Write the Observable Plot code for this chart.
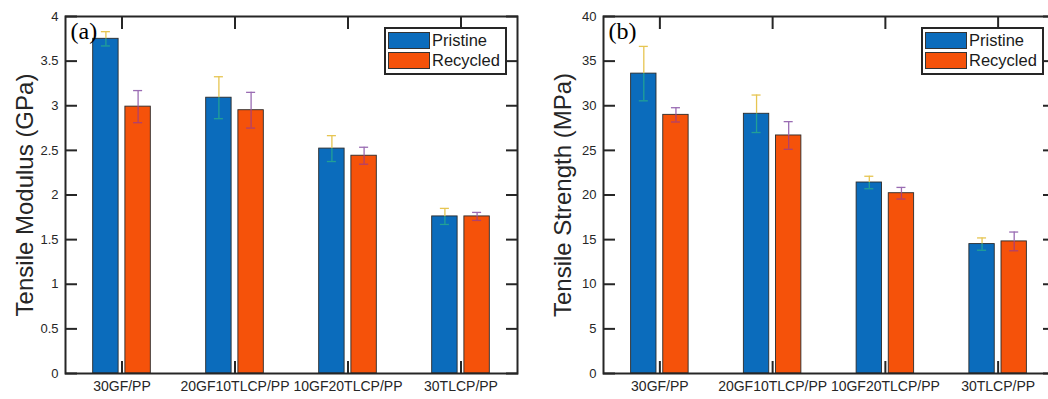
<!DOCTYPE html>
<html>
<head>
<meta charset="utf-8">
<script src="https://cdn.jsdelivr.net/npm/d3@7"></script>
<script src="https://cdn.jsdelivr.net/npm/@observablehq/plot@0.6"></script>
<style>
  html, body { margin: 0; padding: 0; background: #fff; overflow: hidden; width: 1048px; height: 399px; }
  #wrap { position: relative; width: 1048px; height: 399px; overflow: hidden; font-family: Arial, "Liberation Sans", sans-serif; }
  .panel { position: absolute; top: 0; }
  .legend { position: absolute; box-sizing: border-box; border: 2px solid #262626; background: #fff; }
  .legend .sw { position: absolute; left: 2px; width: 42px; height: 17px; box-sizing: border-box; border: 1px solid #333; }
  .legend .lb { position: absolute; left: 46px; font-size: 16.5px; line-height: 17px; color: #1a1a1a; white-space: nowrap; }
</style>
</head>
<body>
<div id="wrap"></div>
<script>
// Sample groups and series
const categories = ["30GF/PP", "20GF10TLCP/PP", "10GF20TLCP/PP", "30TLCP/PP"];
const seriesNames = ["Pristine", "Recycled"];
const seriesColors = ["#0b6cbc", "#f5520a"];

// (a) tensile modulus, GPa (mean and error)
const modulusPristine = [3.75, 3.09, 2.52, 1.76];
const modulusPristineErr = [0.08, 0.235, 0.145, 0.09];
const modulusRecycled = [2.99, 2.95, 2.44, 1.76];
const modulusRecycledErr = [0.18, 0.2, 0.095, 0.045];
const modulusTicks = [0, 0.5, 1, 1.5, 2, 2.5, 3, 3.5, 4];

// (b) tensile strength, MPa (mean and error)
const strengthPristine = [33.6, 29.1, 21.4, 14.5];
const strengthPristineErr = [3.05, 2.1, 0.7, 0.69];
const strengthRecycled = [28.98, 26.67, 20.2, 14.8];
const strengthRecycledErr = [0.8, 1.55, 0.65, 1.05];
const strengthTicks = [0, 5, 10, 15, 20, 25, 30, 35, 40];

// Bar span within each group (in category units) and error bar colours
const barSpan = {Pristine: [-0.255, -0.03], Recycled: [0.03, 0.255]};
const errColors = {
  Pristine: {upper: "#e6c552", lower: "#22a096"},
  Recycled: {upper: "#9a6cb3", lower: "#b0406e"}
};
const capHalf = 0.04;

function rowsFor(pVals, pErr, rVals, rErr) {
  const rows = [];
  categories.forEach((c, i) => {
    rows.push({i, category: c, series: "Pristine", value: pVals[i], err: pErr[i]});
    rows.push({i, category: c, series: "Recycled", value: rVals[i], err: rErr[i]});
  });
  return rows;
}

function errorMarks(rows) {
  const marks = [];
  for (const s of seriesNames) {
    const data = rows.filter(d => d.series === s);
    const cx = d => d.i + (barSpan[s][0] + barSpan[s][1]) / 2;
    const col = errColors[s];
    marks.push(
      Plot.ruleX(data, {x: cx, y1: "value", y2: d => d.value + d.err, stroke: col.upper, strokeWidth: 1.3}),
      Plot.ruleX(data, {x: cx, y1: d => d.value - d.err, y2: "value", stroke: col.lower, strokeWidth: 1.3}),
      Plot.ruleY(data, {y: d => d.value + d.err, x1: d => cx(d) - capHalf, x2: d => cx(d) + capHalf, stroke: col.upper, strokeWidth: 1.3}),
      Plot.ruleY(data, {y: d => d.value - d.err, x1: d => cx(d) - capHalf, x2: d => cx(d) + capHalf, stroke: col.lower, strokeWidth: 1.3})
    );
  }
  return marks;
}

function panel({rows, yDomain, yTicks, yLabel, tag, width, marginLeft, marginRight}) {
  return Plot.plot({
    width,
    height: 399,
    marginTop: 16,
    marginBottom: 26,
    marginLeft,
    marginRight,
    style: {fontFamily: "Arial, 'Liberation Sans', sans-serif", background: "transparent", overflow: "visible"},
    x: {domain: [-0.5, 3.5]},
    y: {domain: yDomain},
    color: {domain: seriesNames, range: seriesColors},
    marks: [
      Plot.rectY(rows, {
        x1: d => d.i + barSpan[d.series][0],
        x2: d => d.i + barSpan[d.series][1],
        y: "value",
        fill: "series",
        stroke: "#2b2b2b",
        strokeWidth: 0.9
      }),
      ...errorMarks(rows),
      Plot.axisY({anchor: "left", ticks: yTicks, tickSize: -12, tickPadding: 19, tickFormat: d => String(d),
        fontSize: 13, color: "#262626", strokeWidth: 2, label: null}),
      Plot.axisY({anchor: "right", ticks: yTicks, tickSize: -12, tickFormat: () => "", color: "#262626", strokeWidth: 2, label: null}),
      Plot.axisX({anchor: "bottom", ticks: [0, 1, 2, 3], tickSize: -12, tickPadding: 20, tickFormat: i => categories[i],
        fontSize: 14, color: "#262626", strokeWidth: 2, label: null}),
      Plot.axisX({anchor: "top", ticks: [0, 1, 2, 3], tickSize: -12, tickFormat: () => "", color: "#262626", strokeWidth: 2, label: null}),
      Plot.frame({stroke: "#262626", strokeWidth: 2}),
      Plot.text([yLabel], {text: d => d, frameAnchor: "left", textAnchor: "middle", lineAnchor: "middle",
        rotate: -90, dx: -40, fontSize: 24, fill: "#262626"}),
      Plot.text([tag], {text: d => d, frameAnchor: "top-left", dx: 5, dy: 5, textAnchor: "start", lineAnchor: "top",
        fontFamily: "'Liberation Serif', 'Times New Roman', serif", fontSize: 24, fill: "#000"})
    ]
  });
}

function legend(frameRight) {
  const box = document.createElement("div");
  box.className = "legend";
  box.style.left = (frameRight - 10.5 - 122.5) + "px";
  box.style.top = "26.7px";
  box.style.width = "122.5px";
  box.style.height = "48.5px";
  seriesNames.forEach((name, k) => {
    const sw = document.createElement("div");
    sw.className = "sw";
    sw.style.top = (3.6 + 20 * k) + "px";
    sw.style.background = seriesColors[k];
    const lb = document.createElement("div");
    lb.className = "lb";
    lb.style.top = (3.6 + 20 * k) + "px";
    lb.textContent = name;
    box.appendChild(sw);
    box.appendChild(lb);
  });
  return box;
}

const wrap = document.getElementById("wrap");

const left = panel({
  rows: rowsFor(modulusPristine, modulusPristineErr, modulusRecycled, modulusRecycledErr),
  yDomain: [0, 4], yTicks: modulusTicks, yLabel: "Tensile Modulus (GPa)", tag: "(a)",
  width: 524, marginLeft: 65, marginRight: 7
});
left.classList.add("panel");
left.style.left = "0px";
wrap.appendChild(left);
wrap.appendChild(legend(517));

const right = panel({
  rows: rowsFor(strengthPristine, strengthPristineErr, strengthRecycled, strengthRecycledErr),
  yDomain: [0, 40], yTicks: strengthTicks, yLabel: "Tensile Strength (MPa)", tag: "(b)",
  width: 540, marginLeft: 83, marginRight: 6
});
right.classList.add("panel");
right.style.left = "520px";
wrap.appendChild(right);
wrap.appendChild(legend(1054));
</script>
</body>
</html>
